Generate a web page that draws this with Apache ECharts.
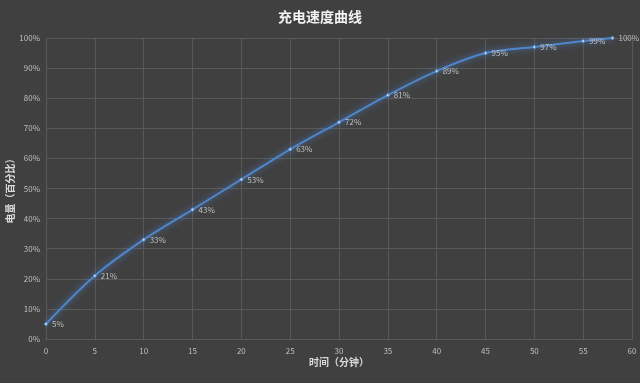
<!DOCTYPE html>
<html><head><meta charset="utf-8">
<script src="https://cdn.jsdelivr.net/npm/echarts@6/dist/echarts.min.js"></script>
<style>html,body{margin:0;padding:0;background:#404040;}#c{width:640px;height:383px;}</style>
</head><body><div id="c"></div>
<script>
const minutes = [0, 5, 10, 15, 20, 25, 30, 35, 40, 45, 50, 55, 58];
const charge = [5, 21, 33, 43, 53, 63, 72, 81, 89, 95, 97, 99, 100];
const title = '充电速度曲线';
const xName = '时间（分钟）';
const yName = '电量（百分比）';

const chart = echarts.init(document.getElementById('c'));
const lab = {color:'#bfbfbf', fontSize:8, fontFamily:'Noto Sans CJK SC'};
chart.setOption({
  backgroundColor:'#404040',
  animation:false,
  title:{text:title, left:'center', top:5, textStyle:{color:'#f2f2f2', fontSize:14, fontWeight:'bold', fontFamily:'Noto Sans CJK SC'}},
  grid:{left:46, right:8, top:38, bottom:44, containLabel:false, outerBoundsMode:'none'},
  xAxis:{type:'value', min:0, max:60, interval:5,
    name:xName, nameLocation:'middle', nameGap:18, nameMoveOverlap:false,
    nameTextStyle:{color:'#d9d9d9', fontSize:10, fontWeight:'bold', fontFamily:'Noto Sans CJK SC'},
    axisLine:{show:true, lineStyle:{color:'#595959'}}, axisTick:{show:false},
    axisLabel:Object.assign({margin:8}, lab),
    splitLine:{show:true, lineStyle:{color:'#595959', width:1}}},
  yAxis:{type:'value', min:0, max:100, interval:10,
    name:yName, nameLocation:'middle', nameGap:31, nameRotate:90, nameMoveOverlap:false,
    nameTextStyle:{color:'#d9d9d9', fontSize:10, fontWeight:'bold', fontFamily:'Noto Sans CJK SC'},
    axisLine:{show:false}, axisTick:{show:false},
    axisLabel:Object.assign({margin:6, formatter:'{value}%'}, lab),
    splitLine:{show:true, lineStyle:{color:'#595959', width:1}}},
  series:[{type:'line', smooth:0.3,
    data:minutes.map((m,i)=>[m, charge[i]]),
    symbol:'circle', symbolSize:3,
    itemStyle:{color:'#cfe0f5', borderColor:'#4f86c9', borderWidth:1},
    lineStyle:{color:'#4f86c9', width:2, shadowColor:'rgba(80,140,230,0.8)', shadowBlur:6},
    label:{show:true, position:'right', distance:4, formatter:p=>p.value[1]+'%', color:'#bfbfbf', fontSize:8, fontFamily:'Noto Sans CJK SC'}
  }]
});
</script></body></html>
